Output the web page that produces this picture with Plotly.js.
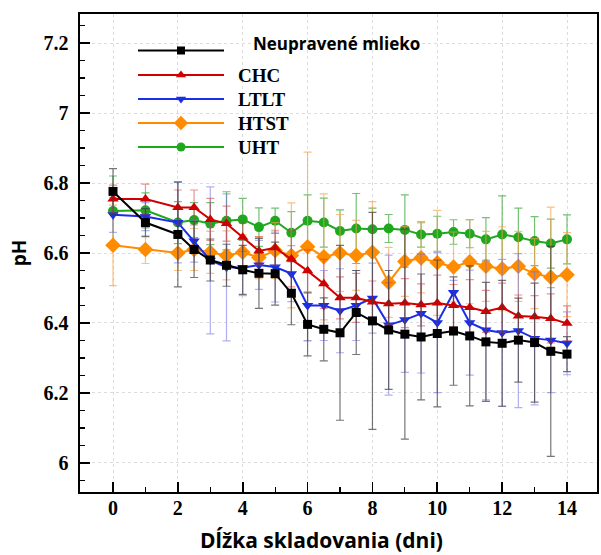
<!DOCTYPE html>
<html>
<head>
<meta charset="utf-8">
<script src="https://cdn.plot.ly/plotly-3.0.1.min.js"></script>
<style>html,body{margin:0;padding:0;background:#fff;}#chart{width:601px;height:555px;}</style>
</head>
<body>
<div id="chart"></div>
<script>
// ---- data ----
const days = [0,1,2,2.5,3,3.5,4,4.5,5,5.5,6,6.5,7,7.5,8,8.5,9,9.5,10,10.5,11,11.5,12,12.5,13,13.5,14];
const seriesNames = ['Neupravené mlieko','CHC','LTLT','HTST','UHT'];
const rawMilk = [6.776,6.687,6.653,6.61,6.58,6.565,6.552,6.542,6.541,6.485,6.396,6.382,6.372,6.43,6.406,6.38,6.368,6.36,6.37,6.377,6.363,6.346,6.342,6.351,6.344,6.319,6.311];
const rawMilkErr = [0.065,0.04,0.15,0.08,0.06,0.06,0.07,0.10,0.09,0.09,0.09,0.09,0.25,0.12,0.31,0.17,0.30,0.18,0.21,0.155,0.20,0.17,0.18,0.12,0.17,0.30,0.05];
const chc = [6.754,6.754,6.73,6.73,6.696,6.684,6.645,6.606,6.615,6.583,6.549,6.512,6.472,6.472,6.46,6.455,6.457,6.452,6.457,6.45,6.444,6.433,6.444,6.42,6.418,6.413,6.399];
const chcErr = [0.04,0.043,0.05,0.05,0.06,0.05,0.04,0.04,0.05,0.08,0.06,0.07,0.06,0.07,0.06,0.06,0.07,0.06,0.08,0.06,0.08,0.06,0.07,0.06,0.06,0.07,0.05];
const ltlt = [6.709,6.704,6.687,6.634,6.579,6.559,6.558,6.566,6.56,6.541,6.45,6.45,6.435,6.45,6.471,6.394,6.409,6.427,6.401,6.487,6.401,6.38,6.372,6.378,6.356,6.351,6.342];
const ltltErr = [0.05,0.04,0.115,0.06,0.21,0.21,0.08,0.07,0.1,0.08,0.1,0.1,0.12,0.1,0.1,0.2,0.15,0.17,0.2,0.035,0.15,0.2,0.21,0.22,0.19,0.15,0.09];
const htst = [6.622,6.61,6.6,6.61,6.602,6.593,6.602,6.587,6.607,6.593,6.618,6.589,6.6,6.593,6.602,6.516,6.576,6.586,6.572,6.56,6.575,6.562,6.555,6.562,6.541,6.531,6.538];
const htstErr = [0.115,0.04,0.05,0.06,0.06,0.07,0.05,0.06,0.08,0.15,0.27,0.18,0.11,0.1,0.145,0.1,0.1,0.1,0.15,0.1,0.12,0.1,0.12,0.1,0.1,0.2,0.12];
const uht = [6.72,6.722,6.687,6.694,6.684,6.692,6.696,6.674,6.692,6.658,6.692,6.687,6.663,6.67,6.668,6.67,6.666,6.653,6.655,6.66,6.655,6.639,6.653,6.645,6.634,6.627,6.639];
const uhtErr = [0.1,0.05,0.06,0.05,0.06,0.083,0.06,0.055,0.036,0.06,0.074,0.07,0.06,0.1,0.06,0.04,0.1,0.036,0.05,0.035,0.04,0.062,0.11,0.083,0.07,0.07,0.07];
const yTickVals = [6,6.2,6.4,6.6,6.8,7,7.2];
const yTickText = ['6','6.2','6.4','6.6','6.8','7','7.2'];
const xTickVals = [0,2,4,6,8,10,12,14];

// ---- styles ----
const styles = [
  {color:'#000000', err:'rgba(60,60,60,0.7)', symbol:'square', size:9},
  {color:'#d00000', err:'rgba(210,60,60,0.55)', symbol:'triangle-up', size:10},
  {color:'#1a2ee6', err:'rgba(110,110,230,0.55)', symbol:'triangle-down', size:10},
  {color:'#ff8c00', err:'rgba(245,160,70,0.65)', symbol:'diamond', size:12},
  {color:'#1fa81f', err:'rgba(40,160,40,0.65)', symbol:'circle', size:10}
];
const values = [rawMilk, chc, ltlt, htst, uht];
const errs = [rawMilkErr, chcErr, ltltErr, htstErr, uhtErr];
const drawOrder = [4,3,2,1,0];

const traces = [];
drawOrder.forEach(i => {
  traces.push({
    type:'scatter', mode:'lines+markers', x:days, y:values[i], name:seriesNames[i],
    line:{color:styles[i].color, width:2},
    marker:{color:styles[i].color, symbol:styles[i].symbol, size:styles[i].size},
    error_y:{type:'data', array:errs[i], visible:true, color:styles[i].err, thickness:1.2, width:4},
    showlegend:false, xaxis:'x', yaxis:'y'
  });
});

// ---- hand-built legend on a pixel-scaled overlay axis ----
const legRows = [50.5, 75, 99, 123, 147];
const legX0 = 138, legX1 = 224, legXm = 181;
const annotations = [];
seriesNames.forEach((n, i) => {
  traces.push({
    type:'scatter', mode:'lines', x:[legX0, legX1], y:[legRows[i], legRows[i]],
    line:{color:styles[i].color, width:2},
    showlegend:false, hoverinfo:'skip', xaxis:'x2', yaxis:'y2'
  });
  traces.push({
    type:'scatter', mode:'markers', x:[legXm], y:[legRows[i]],
    marker:{color:styles[i].color, symbol:styles[i].symbol, size:styles[i].size - 1},
    showlegend:false, hoverinfo:'skip', xaxis:'x2', yaxis:'y2'
  });
  if (i === 0) {
    annotations.push({xref:'x2', yref:'y2', x:251, y:43.5, xanchor:'left', yanchor:'middle', showarrow:false,
      text:n, font:{family:'Open Sans, Noto Sans, sans-serif', size:17, weight:'bold', color:'#000'}});
  } else {
    annotations.push({xref:'x2', yref:'y2', x:236, y:legRows[i], xanchor:'left', yanchor:'middle', showarrow:false,
      text:n, font:{family:'Liberation Serif, serif', size:19, weight:'bold', color:'#000'}});
  }
});
annotations.push({xref:'paper', yref:'paper', x:0.468, y:-0.1, xanchor:'center', yanchor:'middle', showarrow:false,
  text:'Dĺžka skladovania (dni)', font:{family:'Open Sans, Noto Sans, sans-serif', size:21, weight:'bold', color:'#000'}});

const layout = {
  width:601, height:555,
  margin:{l:80, r:4, t:14, b:63},
  paper_bgcolor:'#fff', plot_bgcolor:'#fff',
  showlegend:false,
  xaxis:{
    range:[-1.018, 14.925], tickvals:xTickVals, ticks:'inside', ticklen:10, tickwidth:1.6, tickcolor:'#000',
    showline:true, linecolor:'#000', linewidth:1.6, mirror:true,
    showgrid:true, gridcolor:'#dcdcdc', griddash:'dot', gridwidth:1, zeroline:false,
    minor:{dtick:1, tick0:1, ticks:'inside', ticklen:5, tickwidth:1.2, tickcolor:'#000', showgrid:false},
    tickfont:{family:'Liberation Serif, serif', size:20, weight:'bold', color:'#000'},
    ticklabelstandoff:-3,
    fixedrange:true
  },
  yaxis:{
    range:[5.917, 7.283], tickvals:yTickVals, ticktext:yTickText, ticks:'inside', ticklen:10, tickwidth:1.6, tickcolor:'#000',
    showline:true, linecolor:'#000', linewidth:1.6, mirror:true,
    showgrid:true, gridcolor:'#dcdcdc', griddash:'dot', gridwidth:1, zeroline:false,
    minor:{dtick:0.05, tick0:6, ticks:'inside', ticklen:5, tickwidth:1.2, tickcolor:'#000', showgrid:false},
    tickfont:{family:'Liberation Serif, serif', size:20, weight:'bold', color:'#000'},
    ticklabelstandoff:6,
    title:{text:'pH', font:{family:'Open Sans, Noto Sans, sans-serif', size:19, weight:'bold', color:'#000'}, standoff:12},
    fixedrange:true
  },
  xaxis2:{overlaying:'x', anchor:'y2', range:[80, 597], visible:false, fixedrange:true},
  yaxis2:{overlaying:'y', anchor:'x2', range:[492, 14], visible:false, fixedrange:true},
  annotations:annotations
};

Plotly.newPlot('chart', traces, layout, {displayModeBar:false, staticPlot:true});
</script>
</body>
</html>
